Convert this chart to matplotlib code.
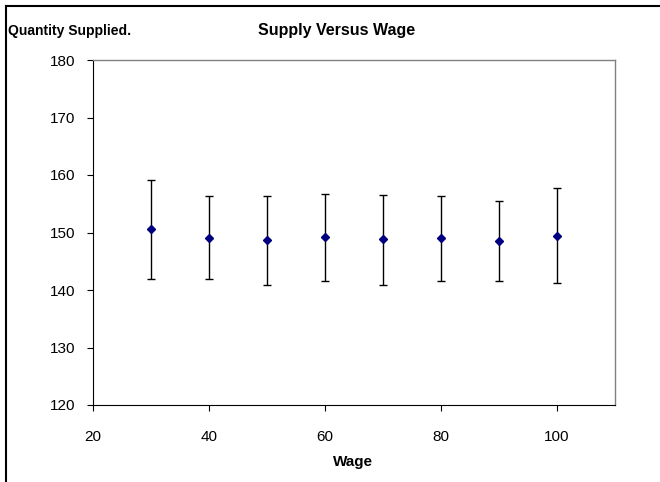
import matplotlib
matplotlib.use("Agg")
import matplotlib.pyplot as plt
from matplotlib import font_manager

# Data
wage = [30, 40, 50, 60, 70, 80, 90, 100]
supply_mean = [150.6, 149.1, 148.7, 149.2, 148.8, 149.0, 148.6, 149.4]
supply_high = [159.1, 156.4, 156.4, 156.7, 156.6, 156.4, 155.5, 157.8]
supply_low = [142.0, 142.0, 140.8, 141.6, 140.8, 141.5, 141.5, 141.3]
x_ticks = [20, 40, 60, 80, 100]
y_ticks = [120, 130, 140, 150, 160, 170, 180]

available = {f.name for f in font_manager.fontManager.ttflist}
narrow = "Liberation Sans Narrow" if "Liberation Sans Narrow" in available else "Liberation Sans"
plt.rcParams["font.family"] = [narrow, "DejaVu Sans"]

fig = plt.figure(figsize=(6.6, 4.82), dpi=100)
fig.patch.set_facecolor("white")

# outer frame: top and left edges
fig.add_artist(plt.Line2D([6 / 660, 1.0], [1 - 6 / 482, 1 - 6 / 482],
                          transform=fig.transFigure, color="black", lw=1.5))
fig.add_artist(plt.Line2D([6 / 660, 6 / 660], [0.0, 1 - 6 / 482],
                          transform=fig.transFigure, color="black", lw=1.5))

ax = fig.add_axes([93 / 660, 1 - 405 / 482, (615 - 93) / 660, (405 - 60) / 482])

err_low = [m - l for m, l in zip(supply_mean, supply_low)]
err_high = [h - m for m, h in zip(supply_mean, supply_high)]
ax.errorbar(wage, supply_mean, yerr=[err_low, err_high], fmt="D",
            color="#000080", markersize=4.5, ecolor="black",
            elinewidth=1.0, capsize=3, capthick=1.0, zorder=3)

ax.set_xlim(20, 110)
ax.set_ylim(120, 180)
ax.set_xticks(x_ticks)
ax.set_yticks(y_ticks)
ax.tick_params(axis="both", direction="out", length=4, width=0.8,
               labelsize=11, colors="black")
ax.tick_params(axis="x", pad=14)
ax.tick_params(axis="y", pad=9)

for side in ("top", "right"):
    ax.spines[side].set_color("#808080")
    ax.spines[side].set_linewidth(1.0)
for side in ("left", "bottom"):
    ax.spines[side].set_color("black")
    ax.spines[side].set_linewidth(0.8)

bold_family = ["Liberation Sans", "DejaVu Sans"]
fig.text(337 / 660, 1 - 31 / 482, "Supply Versus Wage", ha="center", va="center",
         fontsize=11.5, fontweight="bold", family=bold_family)
fig.text(8 / 660, 1 - 31 / 482, "Quantity Supplied.", ha="left", va="center",
         fontsize=10, fontweight="bold", family=bold_family)
fig.text(353 / 660, 1 - 462 / 482, "Wage", ha="center", va="center",
         fontsize=11, fontweight="bold", family=bold_family)

fig.savefig("out.png", dpi=100)
